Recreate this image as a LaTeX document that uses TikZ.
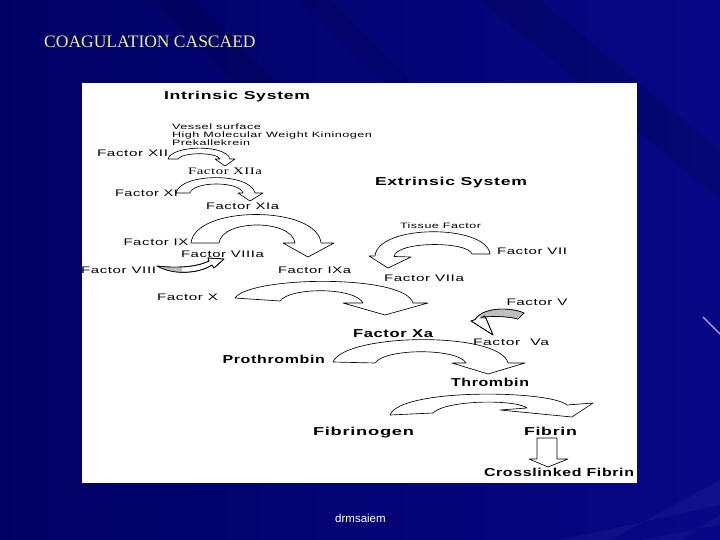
\documentclass[tikz,border=0pt]{standalone}
\usepackage{fontspec}
\usepackage{graphicx}
\setmainfont{Liberation Sans}
\newfontfamily\labfont[LetterSpace=4]{Liberation Sans}
\newfontfamily\labserif[LetterSpace=4]{Liberation Serif}
\newfontfamily\ttlfont{Liberation Serif}
\newcommand\fitw[2]{\resizebox{#1pt}{\height}{#2}}
\definecolor{bgdark}{RGB}{0,0,100}
\definecolor{bgmid}{RGB}{12,12,150}
\definecolor{bgright}{RGB}{8,8,135}
\definecolor{ttlyellow}{RGB}{240,236,140}
\definecolor{shadegrey}{RGB}{190,190,190}
\definecolor{streak}{RGB}{200,160,255}
\tikzset{
  blk/.style={draw=black, fill=white, line width=0.65pt, line join=round},
  tlab/.style={inner sep=0pt, outer sep=0pt, anchor=base west, font=\labfont\fontsize{9.5}{11}\selectfont},
  tsmall/.style={inner sep=0pt, outer sep=0pt, anchor=base west, font=\labfont\fontsize{7.8}{9}\selectfont},
  tbold/.style={inner sep=0pt, outer sep=0pt, anchor=base west, font=\labfont\bfseries\fontsize{11.5}{13}\selectfont},
  tserif/.style={inner sep=0pt, outer sep=0pt, anchor=base west, font=\labserif\fontsize{10}{12}\selectfont},
}
\begin{document}
\begin{tikzpicture}[x=1pt,y=-1pt]
\useasboundingbox (0,0) rectangle (720,540);
% background
\shade[left color=bgdark, middle color=bgmid, right color=bgright] (0,0) rectangle (720,540);
\fill[black, opacity=0.10] (150,0) -- (195,0) -- (300,105) -- (255,105) -- cycle;
\fill[black, opacity=0.08] (300,0) -- (330,0) -- (430,100) -- (400,100) -- cycle;
\fill[black, opacity=0.12] (480,0) -- (540,0) -- (720,150) -- (720,200) -- cycle;
\fill[white, opacity=0.035] (560,540) -- (610,540) -- (720,480) -- (720,505) -- cycle;
\fill[white, opacity=0.03] (640,540) -- (680,540) -- (720,515) -- (720,525) -- cycle;
\draw[streak, line width=1.2pt] (703,317) -- (720,334);
% title and footer
\node[inner sep=0pt, anchor=base west, text=ttlyellow, font=\ttlfont\fontsize{17.5}{20}\selectfont] (title) at (44,47.5) {COAGULATION CASCAED};
\node[inner sep=0pt, anchor=base west, text=white, font=\fontsize{11.5}{13}\selectfont] (foot) at (335,522.5) {drmsaiem};
% white panel
\fill[white] (82,83) rectangle (637,483);
% ---- arrows ----
% A1 XII -> XIIa
\path[blk] (168,159) .. controls (172,145) and (226,144) .. (230,159) -- (235,159) -- (225,166) -- (215,159) -- (220,159)
  .. controls (217,152) and (182,152) .. (178,159) -- cycle;
% A2 XI -> XIa
\path[blk] (176,193) .. controls (180,173) and (250,172) .. (255,193) -- (263,193) -- (250,201) -- (238,193) -- (243,193)
  .. controls (240,181) and (193,181) .. (190,193) -- cycle;
% A3 IX -> IXa
\path[blk] (191,243) .. controls (195,205) and (317,205) .. (321,243) -- (334,243) -- (308,257) -- (283,243) -- (295,243)
  .. controls (292,219) and (222,219) .. (219,243) -- cycle;
% A4 VIII -> VIIIa
\def\afour{(157,266) .. controls (175,276) and (200,273) .. (212,265) -- (214,268) -- (224,259) -- (208,258) -- (209,261)
  .. controls (195,268) and (172,268) .. (157,266) -- cycle}
\path[blk] \afour;
\begin{scope}
\clip (150,250) rectangle (182,280);
\fill[shadegrey] \afour;
\end{scope}
\draw[line width=0.65pt, line join=round] \afour;
% A5 VII -> VIIa
\path[blk] (490,254) .. controls (486,224) and (378,224) .. (375,256) -- (369,256) -- (388,268) -- (411,257) -- (394,256.5)
  .. controls (396,241) and (468,241) .. (472,254) -- cycle;
% A6 X -> Xa
\path[blk] (235,298) .. controls (250,276) and (405,274) .. (413,303) -- (428,303) -- (385,315) -- (343,303) -- (363,303)
  .. controls (355,287) and (290,287) .. (280,301) -- cycle;
% A7 V -> Va
\def\aseven{(524,313) .. controls (510,307) and (483,307) .. (475,319.6) -- (471,321) -- (493,335) -- (485,316) -- (481,317.4)
  .. controls (490,316) and (508,316) .. (518,319) -- cycle}
\path[blk] \aseven;
\begin{scope}
\clip (480,300) rectangle (530,318.5);
\fill[shadegrey] \aseven;
\end{scope}
\draw[line width=0.65pt, line join=round] \aseven;
% A8 Prothrombin -> Thrombin
\path[blk] (333,362) .. controls (345,333) and (500,331) .. (508,363) -- (525,363) -- (488,374) -- (452,363) -- (466,363)
  .. controls (458,348) and (385,348) .. (375,363) -- cycle;
% A9 Fibrinogen -> Fibrin
\path[blk] (390,415) .. controls (400,388) and (550,390) .. (567,405) -- (593,403) -- (572,417) -- (500,410) -- (527,408)
  .. controls (515,399) and (445,400) .. (433,413) -- cycle;
% A10 Fibrin -> Crosslinked
\path[blk] (537,438) -- (557,438) -- (557,459) -- (568,459) -- (548,467) -- (529,459) -- (537,459) -- cycle;
% ---- labels ----
\node[tbold] (intr) at (164,100) {\fitw{146}{Intrinsic System}};
\node[tsmall] (vessel) at (172,129.5) {\fitw{89}{Vessel surface}};
\node[tsmall] (hmwk) at (172,137.7) {\fitw{200}{High Molecular Weight Kininogen}};
\node[tsmall] (prek) at (172,146) {\fitw{78}{Prekallekrein}};
\node[tlab] (f12) at (97,156.5) {\fitw{71}{Factor XII}};
\node[tserif] (f12a) at (188,174.5) {\fitw{74}{Factor XIIa}};
\node[tlab] (f11) at (115,197) {\fitw{63}{Factor XI}};
\node[tlab] (f11a) at (206,210) {\fitw{73}{Factor XIa}};
\node[tbold] (extr) at (375,186) {\fitw{152}{Extrinsic System}};
\node[tsmall] (tf) at (400,228.5) {\fitw{81}{Tissue Factor}};
\node[tlab] (f7) at (497,254.5) {\fitw{70}{Factor VII}};
\node[tlab] (f7a) at (384,281) {\fitw{80}{Factor VIIa}};
\node[tlab] (f9) at (123.5,245) {\fitw{65}{Factor IX}};
\node[tlab] (f8a) at (181,257.5) {\fitw{83}{Factor VIIIa}};
\node[tlab] (f8) at (81,273) {\fitw{75}{Factor VIII}};
\node[tlab] (f9a) at (278,273) {\fitw{73}{Factor IXa}};
\node[tlab] (f10) at (157,300.5) {\fitw{61}{Factor X}};
\node[tlab] (f5) at (506.5,305) {\fitw{61}{Factor V}};
\node[tbold] (f10a) at (353,337) {\fitw{80}{Factor Xa}};
\node[tlab] (f5a) at (473,345) {\fitw{76}{Factor\ \ Va}};
\node[tbold] (proth) at (222.5,363) {\fitw{102.5}{Prothrombin}};
\node[tbold] (thromb) at (451,386.5) {\fitw{78}{Thrombin}};
\node[tbold] (fibgen) at (313,435.5) {\fitw{101}{Fibrinogen}};
\node[tbold] (fibrin) at (524,435.5) {\fitw{53}{Fibrin}};
\node[tbold] (xfib) at (484,476.5) {\fitw{150}{Crosslinked Fibrin}};
\end{tikzpicture}
\end{document}
